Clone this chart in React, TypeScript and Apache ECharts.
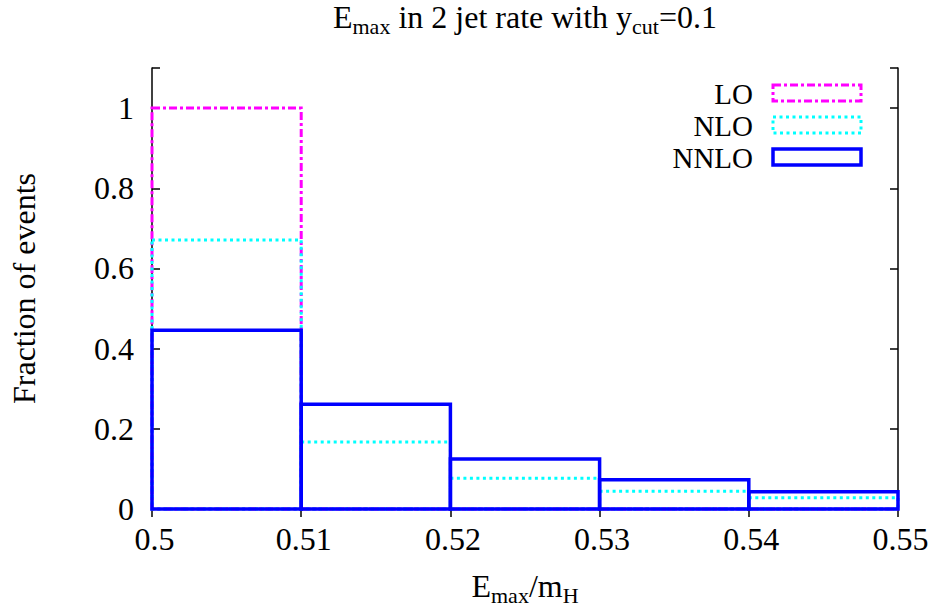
import React, { useEffect, useRef } from 'react';
import * as echarts from 'echarts';

const binEdges = [0.5, 0.51, 0.52, 0.53, 0.54, 0.55];
const loValues = [1.0, 0, 0, 0, 0];
const nloValues = [0.671, 0.167, 0.077, 0.044, 0.028];
const nnloValues = [0.446, 0.261, 0.125, 0.073, 0.043];
const seriesNames = ['LO', 'NLO', 'NNLO'];
const seriesColors = ['#ff00ff', '#00ffff', '#0000ff'];

const FONT = '"Liberation Serif", "Times New Roman", serif';
const FS = 32;
const SUB = 22;
const LEGEND_FS = 29;

const rich = {
  n: { fontSize: FS, fontFamily: FONT, color: '#000', lineHeight: FS, verticalAlign: 'top' },
  s: { fontSize: SUB, fontFamily: FONT, color: '#000', lineHeight: FS, verticalAlign: 'top', padding: [14, 0, 0, 0] },
};

function toBins(values: number[]) {
  return values.map((v, i) => [binEdges[i], binEdges[i + 1], v]);
}

function boxRender(color: string, width: number, dash: number[] | null) {
  return (_params: any, api: any) => {
    const p0 = api.coord([api.value(0), api.value(2)]);
    const p1 = api.coord([api.value(1), 0]);
    return {
      type: 'rect',
      shape: { x: p0[0], y: p0[1], width: p1[0] - p0[0], height: p1[1] - p0[1] },
      style: { fill: 'none', stroke: color, lineWidth: width, lineDash: dash || undefined },
    };
  };
}

const styles: { w: number; dash: number[] | null }[] = [
  { w: 3, dash: [8, 3, 3, 3] },
  { w: 3, dash: [3, 3.5] },
  { w: 3.5, dash: null },
];

export default function App() {
  const ref = useRef<HTMLDivElement>(null);
  useEffect(() => {
    if (!ref.current) return;
    const chart = echarts.init(ref.current, undefined, { renderer: 'svg' });
    const axisLine = { show: true, lineStyle: { color: '#000', width: 1.5 } };
    const axisTick = { show: true, inside: true, length: 8, lineStyle: { color: '#000', width: 1.5 } };
    const xFmt = (v: number) => String(+v.toFixed(2));
    const yFmt = (v: number) => (v > 1.05 ? '' : String(+v.toFixed(1)));
    const allSeries = [loValues, nloValues, nnloValues];
    const legendItems: any[] = [];
    const legendY = [93, 125, 157];
    seriesNames.forEach((name, i) => {
      legendItems.push({
        type: 'text',
        style: {
          text: name, x: 753, y: legendY[i] + 1, align: 'right', verticalAlign: 'middle',
          fontSize: LEGEND_FS, lineHeight: 26, fontFamily: FONT, fill: '#000',
        },
        z: 100,
      });
      legendItems.push({
        type: 'rect',
        shape: { x: 773, y: legendY[i] - 8, width: 88, height: 16 },
        style: { fill: 'none', stroke: seriesColors[i], lineWidth: styles[i].w, lineDash: styles[i].dash || undefined },
        z: 100,
      });
    });
    chart.setOption({
      animation: false,
      backgroundColor: '#fff',
      grid: { left: 152, top: 68, width: 746, height: 441, containLabel: false },
      xAxis: [
        {
          type: 'value', position: 'bottom', min: 0.5, max: 0.55, interval: 0.01,
          axisLine, axisTick, splitLine: { show: false },
          axisLabel: { fontSize: FS, fontFamily: FONT, color: '#000', margin: 14, padding: [0, 0, 0, 5], formatter: xFmt },
          name: '{n|E}{s|max}{n|/m}{s|H}', nameLocation: 'middle', nameGap: 61,
          nameTextStyle: { fontSize: FS, fontFamily: FONT, color: '#000', rich },
        },
        {
          type: 'value', position: 'top', min: 0.5, max: 0.55, interval: 0.01,
          axisLine, axisTick, splitLine: { show: false }, axisLabel: { show: false },
        },
      ],
      yAxis: [
        {
          type: 'value', position: 'left', min: 0, max: 1.1, interval: 0.2,
          axisLine, axisTick, splitLine: { show: false },
          axisLabel: { fontSize: FS, fontFamily: FONT, color: '#000', margin: 18, formatter: yFmt },
          name: 'Fraction of events', nameLocation: 'middle', nameGap: 112, nameRotate: 90,
          nameTextStyle: { fontSize: FS, fontFamily: FONT, color: '#000' },
        },
        {
          type: 'value', position: 'right', min: 0, max: 1.1, interval: 0.2,
          axisLine, axisTick, splitLine: { show: false }, axisLabel: { show: false },
        },
      ],
      series: allSeries.map((vals, i) => ({
        type: 'custom',
        name: seriesNames[i],
        xAxisIndex: 0,
        yAxisIndex: 0,
        z: 10 + i,
        encode: { x: [0, 1], y: 2 },
        data: toBins(vals),
        renderItem: boxRender(seriesColors[i], styles[i].w, styles[i].dash),
      })),
      graphic: [
        {
          type: 'text',
          style: {
            text: '{n|E}{s|max}{n| in 2 jet rate with y}{s|cut}{n|=0.1}',
            x: 525, y: 1, align: 'center', verticalAlign: 'top',
            fontSize: FS, fontFamily: FONT, fill: '#000', rich,
          },
        },
        ...legendItems,
      ],
    });
    return () => chart.dispose();
  }, []);
  return <div ref={ref} style={{ width: 933, height: 612, position: 'absolute', left: 0, top: 0 }} />;
}
